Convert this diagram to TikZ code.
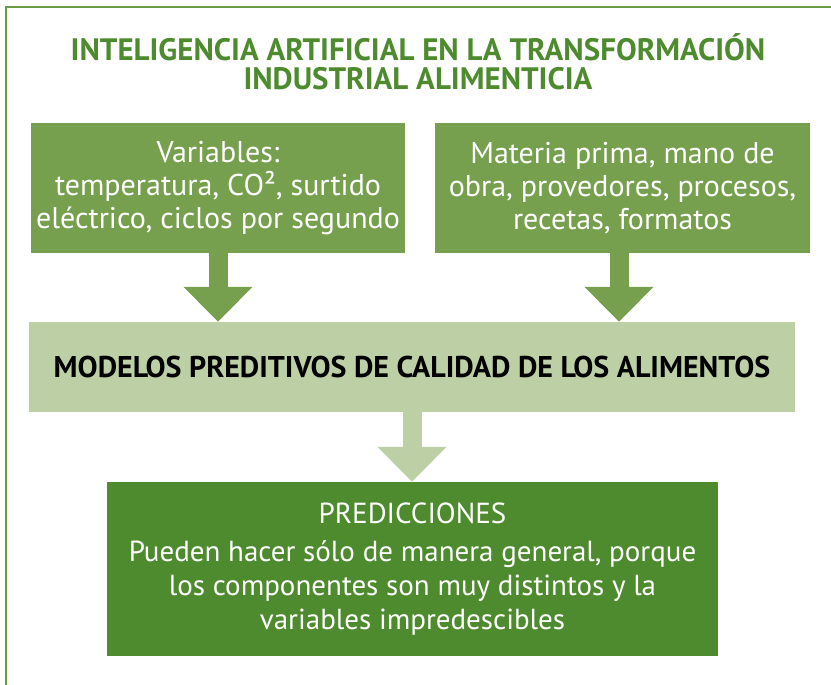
\documentclass[tikz,border=0pt]{standalone}
\usepackage{fontspec}
\setmainfont{PT Sans}
\usetikzlibrary{arrows.meta}
\definecolor{boxgreen}{HTML}{76A04E}
\definecolor{lightgreen}{HTML}{BCCFA5}
\definecolor{darkgreen}{HTML}{4E8B2E}
\definecolor{framegreen}{HTML}{6A9C45}
\tikzset{
  inbox/.style={fill=boxgreen, text=white, align=center, inner sep=0pt,
    minimum width=374pt, minimum height=130pt,
    font=\fontsize{30}{33}\selectfont},
  fatarrow/.style={line width=19pt, draw=#1,
    -{Triangle[width=67pt,length=35pt,fill=#1]}},
}
\begin{document}
\begin{tikzpicture}[x=1pt,y=-1pt]
\useasboundingbox (0,0) rectangle (831,685);
\draw[framegreen, line width=2pt] (5.5,686) -- (5.5,7.5) -- (832,7.5);
\node[text=darkgreen, align=center, font=\bfseries\fontsize{31}{29}\selectfont]
  (title) at (418,62) {INTELIGENCIA ARTIFICIAL EN LA TRANSFORMACIÓN\\INDUSTRIAL ALIMENTICIA};
\node[inbox] (b1) at (218,188) {Variables:\\temperatura, CO², surtido\\eléctrico, ciclos por segundo};
\node[inbox, minimum width=375pt] (b2) at (622.5,188) {Materia prima, mano de\\obra, provedores, procesos,\\recetas, formatos};
\node[fill=lightgreen, text=black, inner sep=0pt, minimum width=766pt, minimum height=90pt,
  font=\bfseries\fontsize{30}{33}\selectfont] (mid) at (412,367)
  {MODELOS PREDITIVOS DE CALIDAD DE LOS ALIMENTOS};
\node[fill=darkgreen, text=white, align=center, inner sep=0pt, minimum width=611pt, minimum height=174pt,
  font=\fontsize{29}{34}\selectfont] (pred) at (412.5,569)
  {PREDICCIONES\\[4pt]Pueden hacer sólo de manera general, porque\\los componentes son muy distintos y la\\variables impredescibles};
\draw[fatarrow=boxgreen] (b1.south) -- (b1.south |- mid.north);
\coordinate (a2) at ([xshift=-3.5pt]b2.south);
\draw[fatarrow=boxgreen] (a2) -- (a2 |- mid.north);
\draw[fatarrow=lightgreen] (mid.south) -- (mid.south |- pred.north);
\end{tikzpicture}
\end{document}
